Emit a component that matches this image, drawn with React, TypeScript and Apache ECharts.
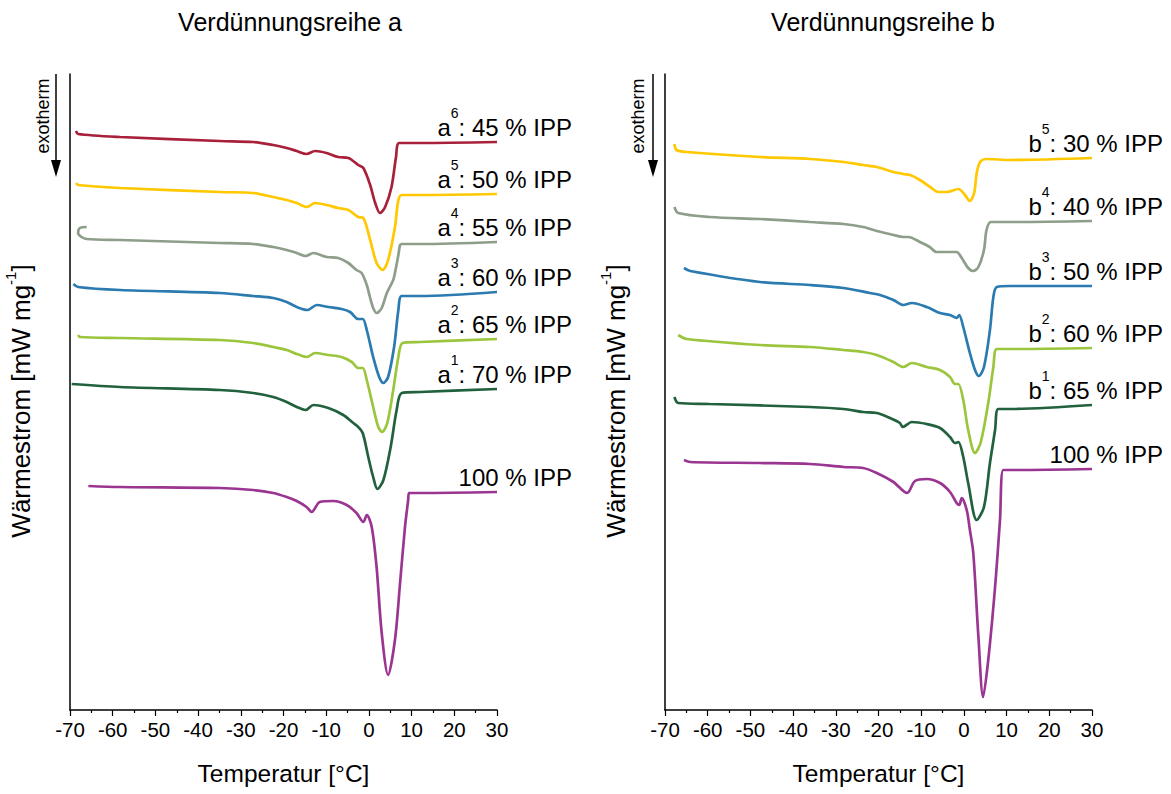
import { useEffect, useRef } from "react";
import * as echarts from "echarts";

const FONT = "'Liberation Sans', Arial, Helvetica, sans-serif";

// Temperature axis ticks
const X_MIN = -70;
const X_MAX = 30;
const X_STEP = 10;
const Y_MAX = 6.36;

// ---- Verdünnungsreihe a : [Temperatur °C, Wärmestrom (arb.)] ----
const a6: number[][] = [[-68.6,5.79],[-68.1,5.76],[-58.3,5.73],[-34.9,5.69],[-27.1,5.68],[-22.4,5.65],[-19.25,5.62],[-16.9,5.59],[-14.6,5.56],[-12.6,5.59],[-9.9,5.57],[-7.2,5.53],[-4.8,5.52],[-2.5,5.45],[-1.3,5.42],[0.3,5.25],[1.4,5.08],[2.6,4.97],[3.8,5.03],[5.3,5.23],[6.35,5.53],[7.1,5.67],[12,5.67],[30,5.68]];
const a5: number[][] = [[-68.6,5.27],[-68.1,5.25],[-58.3,5.22],[-34.9,5.18],[-27.1,5.17],[-22.4,5.13],[-19.25,5.10],[-16.9,5.07],[-14.5,5.03],[-12.6,5.07],[-9.9,5.05],[-7.2,5.02],[-4.8,5.00],[-2.5,4.93],[-1.3,4.92],[0.3,4.70],[1.8,4.47],[3.2,4.40],[4.5,4.50],[6.1,4.83],[6.9,5.10],[7.7,5.15],[12,5.15],[30,5.16]];
const a4: number[][] = [[-66.1,4.83],[-67.7,4.82],[-68.1,4.77],[-67.3,4.73],[-66.1,4.71],[-58.3,4.70],[-34.9,4.67],[-27.1,4.66],[-22.4,4.63],[-19.25,4.60],[-16.9,4.57],[-14.8,4.54],[-13.0,4.57],[-9.9,4.53],[-7.2,4.52],[-4.8,4.47],[-2.9,4.40],[-1.7,4.37],[-0.5,4.25],[0.3,4.12],[1.0,4.02],[1.8,3.97],[3.0,4.02],[4.2,4.17],[5.7,4.30],[6.1,4.37],[6.9,4.55],[7.3,4.65],[7.75,4.66],[12,4.66],[30,4.68]];
const a3: number[][] = [[-69.2,4.26],[-68.1,4.23],[-58.3,4.20],[-34.9,4.17],[-27.1,4.14],[-22.4,4.12],[-19.25,4.08],[-16.9,4.03],[-14.4,4.00],[-12.2,4.05],[-9.5,4.03],[-6.4,4.01],[-4.4,3.98],[-2.5,3.91],[-1.45,3.91],[-0.5,3.80],[1.0,3.53],[2.4,3.33],[3.4,3.27],[4.5,3.33],[5.9,3.63],[6.9,4.00],[7.7,4.14],[12,4.14],[30,4.18]];
const a2: number[][] = [[-68.1,3.75],[-67.7,3.73],[-58.3,3.72],[-34.9,3.70],[-27.1,3.67],[-22.4,3.63],[-19.25,3.60],[-16.9,3.56],[-14.5,3.53],[-12.6,3.57],[-9.5,3.55],[-6.4,3.53],[-4.0,3.48],[-2.5,3.42],[-1.45,3.42],[-0.5,3.30],[1.0,3.03],[2.2,2.83],[3.1,2.78],[4.3,2.87],[5.7,3.20],[6.9,3.53],[7.9,3.67],[12,3.68],[30,3.71]];
const a1: number[][] = [[-69.6,3.26],[-58.3,3.23],[-34.9,3.20],[-27.1,3.17],[-22.4,3.13],[-19.25,3.08],[-16.9,3.03],[-14.8,3.00],[-13.0,3.05],[-9.5,3.02],[-6.0,2.95],[-3.65,2.87],[-2.5,2.83],[-1.45,2.77],[-0.15,2.53],[1.0,2.33],[2.0,2.21],[3.4,2.30],[5.1,2.63],[6.5,3.00],[7.7,3.17],[12,3.18],[30,3.21]];
const aRef: number[][] = [[-65.7,2.24],[-58.3,2.23],[-34.9,2.22],[-27.1,2.20],[-22.4,2.17],[-19.25,2.13],[-16.9,2.09],[-14.6,2.03],[-13.4,1.98],[-11.5,2.08],[-8.3,2.09],[-5.2,2.05],[-2.9,1.97],[-1.3,1.88],[-0.5,1.95],[0.66,1.83],[1.8,1.43],[3.0,0.77],[4.5,0.35],[6.1,0.70],[7.3,1.27],[8.45,1.83],[9.2,2.10],[9.4,2.17],[12,2.17],[30,2.18]];

// ---- Verdünnungsreihe b ----
const b5: number[][] = [[-67.8,5.66],[-67.3,5.60],[-64.9,5.58],[-47.75,5.53],[-36.0,5.51],[-28.2,5.48],[-23.6,5.45],[-20.4,5.43],[-16.5,5.38],[-14.2,5.36],[-12.6,5.35],[-10.3,5.30],[-7.9,5.23],[-6.0,5.18],[-4.0,5.18],[-1.3,5.21],[0.26,5.15],[1.4,5.09],[2.4,5.17],[3.0,5.37],[3.8,5.48],[5.3,5.51],[10.8,5.50],[30,5.52]];
const b4: number[][] = [[-67.8,5.03],[-66.9,4.97],[-59.5,4.93],[-47.75,4.91],[-36.0,4.88],[-28.2,4.86],[-23.6,4.83],[-20.4,4.79],[-16.5,4.75],[-14.2,4.73],[-13.0,4.73],[-10.3,4.68],[-8.0,4.63],[-6.4,4.58],[-4.4,4.58],[-1.7,4.58],[-0.5,4.52],[1.0,4.42],[2.2,4.39],[3.4,4.43],[4.7,4.60],[5.3,4.80],[6.3,4.88],[10.8,4.88],[30,4.89]];
const b3: number[][] = [[-65.55,4.42],[-64.1,4.39],[-47.75,4.28],[-36.0,4.25],[-28.2,4.22],[-22.0,4.17],[-19.65,4.15],[-16.5,4.10],[-14.2,4.05],[-12.2,4.07],[-8.7,4.03],[-5.6,3.97],[-3.25,3.95],[-1.7,3.92],[-1.1,3.95],[-0.15,3.83],[1.4,3.57],[2.6,3.40],[3.5,3.34],[4.7,3.43],[6.1,3.80],[6.9,4.13],[7.7,4.23],[10.8,4.24],[30,4.24]];
const b2: number[][] = [[-66.9,3.75],[-64.9,3.71],[-47.75,3.65],[-36.0,3.63],[-28.2,3.60],[-23.6,3.58],[-20.4,3.55],[-16.5,3.48],[-14.2,3.43],[-12.2,3.47],[-8.7,3.43],[-5.6,3.40],[-3.25,3.33],[-2.1,3.26],[-1.3,3.26],[-0.15,3.10],[1.0,2.80],[2.6,2.57],[3.9,2.67],[5.7,3.07],[6.9,3.43],[7.7,3.61],[10.8,3.61],[30,3.62]];
const b1: number[][] = [[-67.8,3.13],[-66.9,3.07],[-59.5,3.06],[-36.0,3.03],[-28.2,3.01],[-23.6,2.98],[-20.4,2.97],[-17.3,2.92],[-15.0,2.87],[-14.3,2.83],[-12.2,2.88],[-8.7,2.86],[-5.6,2.82],[-3.25,2.73],[-2.1,2.67],[-1.3,2.68],[-0.15,2.53],[1.0,2.27],[3.0,1.90],[4.7,2.03],[6.1,2.47],[7.3,2.80],[8.05,3.01],[10.8,3.01],[30,3.05]];
const bRef: number[][] = [[-65.55,2.50],[-64.1,2.48],[-47.75,2.47],[-36.0,2.46],[-28.2,2.43],[-23.6,2.42],[-20.4,2.37],[-16.5,2.28],[-13.3,2.17],[-11.45,2.29],[-8.7,2.31],[-5.6,2.27],[-3.25,2.18],[-1.7,2.07],[-1.1,2.05],[-0.5,2.12],[0.66,2.00],[1.4,1.80],[2.2,1.57],[3.4,0.73],[4.5,0.13],[5.7,0.50],[7.3,1.23],[8.45,1.90],[9.2,2.40],[10.8,2.40],[30,2.41]];

const TITLES = ["Verdünnungsreihe a", "Verdünnungsreihe b"];
const X_NAME = "Temperatur [°C]";
const Y_NAME = "Wärmestrom [mW mg{sup|-1}]";
const EXO = "exotherm";

const RED = "#A8203A";
const YELLOW = "#FFC800";
const GRAY = "#8E9E8B";
const BLUE = "#2B7BB1";
const LGREEN = "#9BC53D";
const DGREEN = "#22613D";
const PURPLE = "#9A3592";

const curvesA = [
  { data: a6, color: RED, label: "a{sup|6}: 45 % IPP" },
  { data: a5, color: YELLOW, label: "a{sup|5}: 50 % IPP" },
  { data: a4, color: GRAY, label: "a{sup|4}: 55 % IPP" },
  { data: a3, color: BLUE, label: "a{sup|3}: 60 % IPP" },
  { data: a2, color: LGREEN, label: "a{sup|2}: 65 % IPP" },
  { data: a1, color: DGREEN, label: "a{sup|1}: 70 % IPP" },
  { data: aRef, color: PURPLE, label: "100 % IPP" },
];
const curvesB = [
  { data: b5, color: YELLOW, label: "b{sup|5}: 30 % IPP" },
  { data: b4, color: GRAY, label: "b{sup|4}: 40 % IPP" },
  { data: b3, color: BLUE, label: "b{sup|3}: 50 % IPP" },
  { data: b2, color: LGREEN, label: "b{sup|2}: 60 % IPP" },
  { data: b1, color: DGREEN, label: "b{sup|1}: 65 % IPP" },
  { data: bRef, color: PURPLE, label: "100 % IPP" },
];

const GRID_LEFTS = [70, 665];
const GRID_W = 427;
const GRID_TOP = 74;
const GRID_H = 636;
const LABEL_RIGHT = [572, 1163];

export default function App() {
  const ref = useRef<HTMLDivElement>(null);
  useEffect(() => {
    if (!ref.current) return;
    const chart = echarts.init(ref.current, null, { renderer: "svg" });
    const xAxis = [0, 1].map((i) => ({
      type: "value",
      gridIndex: i,
      min: X_MIN,
      max: X_MAX,
      interval: X_STEP,
      name: X_NAME,
      nameLocation: "middle",
      nameGap: 51,
      nameTextStyle: { fontFamily: FONT, fontSize: 24.5, color: "#000" },
      axisLine: { show: true, onZero: false, lineStyle: { color: "#000", width: 1.5 } },
      axisTick: { show: true, length: 6, lineStyle: { color: "#000", width: 1.2 } },
      minorTick: { show: true, splitNumber: 2, length: 3, lineStyle: { color: "#000", width: 1.2 } },
      axisLabel: { fontFamily: FONT, fontSize: 20.5, color: "#000", margin: 9 },
      splitLine: { show: false },
    }));
    const yAxis = [0, 1].map((i) => ({
      type: "value",
      gridIndex: i,
      min: 0,
      max: Y_MAX,
      name: Y_NAME,
      nameLocation: "middle",
      nameGap: 31,
      nameTextStyle: {
        fontFamily: FONT,
        fontSize: 26,
        color: "#000",
        padding: [0, 18, 0, 0],
        rich: {
          sup: { fontFamily: FONT, fontSize: 15, color: "#000", verticalAlign: "top", lineHeight: 15 },
        },
        lineHeight: 36,
      },
      axisLine: { show: true, onZero: false, lineStyle: { color: "#000", width: 1.5 } },
      axisTick: { show: false },
      axisLabel: { show: false },
      splitLine: { show: false },
    }));
    const mk = (c: any, idx: number) => ({
      type: "line",
      xAxisIndex: idx,
      yAxisIndex: idx,
      data: c.data,
      showSymbol: false,
      smooth: 0.3,
      lineStyle: { color: c.color, width: 2.7 },
      itemStyle: { color: c.color },
      z: 3,
    });
    const series = [...curvesA.map((c) => mk(c, 0)), ...curvesB.map((c) => mk(c, 1))];

    chart.setOption({
      animation: false,
      backgroundColor: "#fff",
      title: [
        { text: TITLES[0], left: 285, top: 4, textAlign: "center", textStyle: { fontFamily: FONT, fontSize: 25, fontWeight: "normal", color: "#000" } },
        { text: TITLES[1], left: 878, top: 4, textAlign: "center", textStyle: { fontFamily: FONT, fontSize: 25, fontWeight: "normal", color: "#000" } },
      ],
      grid: GRID_LEFTS.map((l) => ({ left: l, top: GRID_TOP, width: GRID_W, height: GRID_H })),
      xAxis,
      yAxis,
      series,
    });

    // labels placed above the last point of each curve
    const labels: any[] = [];
    [curvesA, curvesB].forEach((curves, gi) => {
      curves.forEach((c) => {
        const last = c.data[c.data.length - 1];
        const p = chart.convertToPixel({ gridIndex: gi } as any, [X_MAX, last[1]]) as number[];
        labels.push({
          type: "text",
          x: LABEL_RIGHT[gi],
          y: p[1] - 15,
          z: 10,
          style: {
            text: c.label,
            align: "right",
            verticalAlign: "middle",
            fontFamily: FONT,
            fontSize: 24,
            fill: "#000",
            lineHeight: 42,
            rich: {
              sup: { fontFamily: FONT, fontSize: 14, lineHeight: 14, verticalAlign: "top", fill: "#000" },
            },
          },
        });
      });
    });
    // exotherm arrows
    const arrowX = [56, 653];
    const textX = [43, 638];
    const deco: any[] = [];
    [0, 1].forEach((i) => {
      deco.push({
        type: "line",
        shape: { x1: arrowX[i], y1: 74, x2: arrowX[i], y2: 164 },
        style: { stroke: "#000", lineWidth: 1.5 },
      });
      deco.push({
        type: "polygon",
        shape: { points: [[arrowX[i] - 5, 160], [arrowX[i] + 5, 160], [arrowX[i], 177]] },
        style: { fill: "#000" },
      });
      deco.push({
        type: "text",
        x: textX[i],
        y: 116,
        rotation: Math.PI / 2,
        style: { text: EXO, align: "center", verticalAlign: "middle", fontFamily: FONT, fontSize: 18, fill: "#000" },
      });
    });
    chart.setOption({ graphic: [...labels, ...deco] });

    return () => chart.dispose();
  }, []);
  return <div ref={ref} style={{ position: "fixed", left: 0, top: 0, width: 1171, height: 794 }} />;
}
